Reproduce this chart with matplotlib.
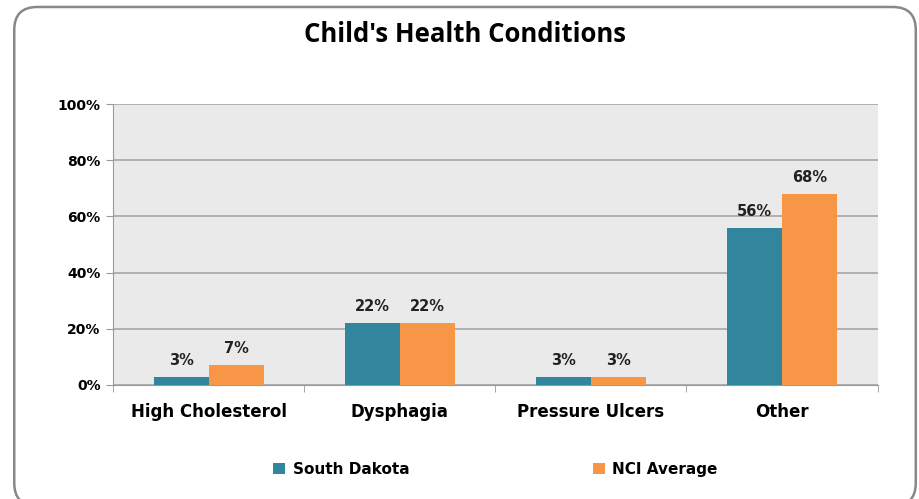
import matplotlib.pyplot as plt
import numpy as np
from matplotlib.patches import FancyBboxPatch

categories = ["High Cholesterol", "Dysphagia", "Pressure Ulcers", "Other"]
south_dakota = [3, 22, 3, 56]
nci_average = [7, 22, 3, 68]
series_names = ["South Dakota", "NCI Average"]
yticks = [0, 20, 40, 60, 80, 100]

teal = "#31859C"
orange = "#F79646"

fig = plt.figure(figsize=(9.19, 4.99), dpi=100)
ax = fig.add_axes([0.123, 0.2285, 0.832, 0.563])

# rounded chart border (bottom edge runs off the image)
border = FancyBboxPatch((0.0155, -0.014), 0.981, 1.0, boxstyle="round,pad=0,rounding_size=0.025",
                        transform=fig.transFigure, facecolor="none", edgecolor="#888888",
                        linewidth=1.8, mutation_aspect=919 / 499)
fig.patches.append(border)

x = np.arange(len(categories))
w = 0.288
b1 = ax.bar(x - w / 2, south_dakota, w, color=teal, label=series_names[0], zorder=3)
b2 = ax.bar(x + w / 2, nci_average, w, color=orange, label=series_names[1], zorder=3)

for bars, vals in [(b1, south_dakota), (b2, nci_average)]:
    for r, v in zip(bars, vals):
        ax.text(r.get_x() + r.get_width() / 2, v + 3.2, f"{v}%", ha="center", va="bottom",
                fontsize=10.5, fontweight="bold", color="#222222")

ax.set_xlim(-0.5, len(categories) - 0.5)
ax.set_ylim(0, 100)
ax.set_facecolor("#EAEAEA")
ax.set_yticks(yticks)
ax.set_yticklabels([f"{t}%" for t in yticks], fontsize=10, fontweight="bold")
ax.set_xticks(x)
ax.set_xticklabels(categories, fontsize=12, fontweight="bold")
ax.tick_params(axis="x", length=0, pad=13)
ax.set_xticks(np.arange(-0.5, len(categories)), minor=True)
ax.tick_params(axis="x", which="minor", length=5, color="#999999")
ax.tick_params(axis="y", length=5, color="#999999", pad=4)
ax.grid(axis="y", color="#A6A6A6", linewidth=1.2, zorder=0)
for s in ["top", "right"]:
    ax.spines[s].set_visible(False)
ax.spines["left"].set_color("#999999")
ax.spines["bottom"].set_color("#999999")

fig.text(0.506, 0.93, "Child's Health Conditions", ha="center", va="center",
         fontsize=18.5, fontweight="bold", family="Open Sans")

ax.legend(loc="center", bbox_to_anchor=(0.5, -0.3), ncol=2, frameon=False,
          prop={"weight": "bold", "size": 11}, columnspacing=12, handlelength=0.8,
          handleheight=0.8, handletextpad=0.5)

fig.savefig("out.png", dpi=100)
